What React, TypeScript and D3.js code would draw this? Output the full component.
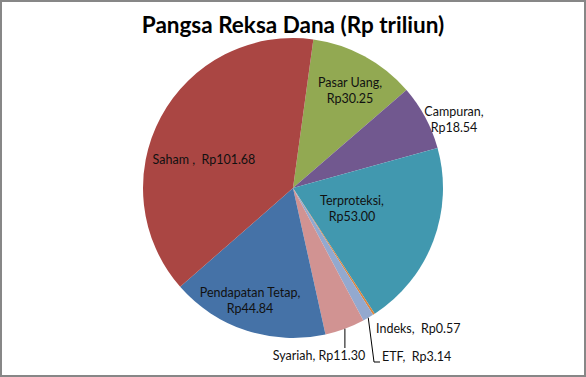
import React from "react";
import * as d3 from "d3";

const categories = ["Pasar Uang", "Campuran", "Terproteksi", "Indeks", "ETF", "Syariah", "Pendapatan Tetap", "Saham"];
const values = [30.25, 18.54, 53.0, 0.57, 3.14, 11.3, 44.84, 101.68];
const valueLabels = ["Rp30.25", "Rp18.54", "Rp53.00", "Rp0.57", "Rp3.14", "Rp11.30", "Rp44.84", "Rp101.68"];
const title = "Pangsa Reksa Dana (Rp triliun)";

const colors: Record<string, string> = {
  "Pasar Uang": "#92A952",
  Campuran: "#71588F",
  Terproteksi: "#4198AF",
  Indeks: "#DB843D",
  ETF: "#93A9CF",
  Syariah: "#D19392",
  "Pendapatan Tetap": "#4572A7",
  Saham: "#AA4643",
};

// label layout: offsets from pie center, line split, anchor
type Lay = { dx: number; dy: number; split: boolean; sep: string; anchor: string };
const layout: Record<string, Lay> = {
  "Pasar Uang": { dx: 57, dy: -96, split: true, sep: ",", anchor: "middle" },
  Campuran: { dx: 161, dy: -67, split: true, sep: ",", anchor: "middle" },
  Terproteksi: { dx: 59, dy: 22, split: true, sep: ",", anchor: "middle" },
  Indeks: { dx: 83, dy: 142, split: false, sep: ",  ", anchor: "start" },
  ETF: { dx: 89, dy: 170, split: false, sep: ",  ", anchor: "start" },
  Syariah: { dx: 26, dy: 169, split: false, sep: ", ", anchor: "middle" },
  "Pendapatan Tetap": { dx: -43, dy: 114, split: true, sep: ",", anchor: "middle" },
  Saham: { dx: -89, dy: -27, split: false, sep: " ,  ", anchor: "middle" },
};

const W = 586;
const H = 377;
const cx = 293;
const cy = 188;
const R = 150;
const startDeg = 7.8;

export default function App() {
  const data = categories.map((c, i) => ({ c, v: values[i], lab: valueLabels[i] }));
  const pie = d3
    .pie<any>()
    .sort(null)
    .value((d) => d.v)
    .startAngle((startDeg * Math.PI) / 180)
    .endAngle((startDeg * Math.PI) / 180 + 2 * Math.PI);
  const arcs = pie(data);
  const arc = d3.arc<any>().innerRadius(0).outerRadius(R);
  const edgePt = (a: any) => {
    const m = (a.startAngle + a.endAngle) / 2;
    return [cx + R * Math.sin(m), cy - R * Math.cos(m)];
  };
  const syr = arcs.find((a) => a.data.c === "Syariah")!;
  const etf = arcs.find((a) => a.data.c === "ETF")!;
  const sp = edgePt(syr);
  const ep = edgePt(etf);
  const lblFont = "Lato, 'Open Sans', sans-serif";

  return (
    <svg width={W} height={H} style={{ position: "absolute", left: 0, top: 0 }}>
      <rect x={1} y={1} width={W - 2} height={H - 2} fill="#fff" stroke="#878787" strokeWidth={2} />
      <text x={cx} y={33} textAnchor="middle" fontFamily={lblFont} fontWeight="bold" fontSize={22.5} fill="#000">
        {title}
      </text>
      <g transform={`translate(${cx},${cy})`}>
        {arcs.map((a) => (
          <path key={a.data.c} d={arc(a) || ""} fill={colors[a.data.c]} />
        ))}
      </g>
      <polyline points={`${sp[0]},${sp[1]} ${sp[0]},${cy + 160}`} fill="none" stroke="#000" strokeWidth={1} />
      <polyline
        points={`${ep[0]},${ep[1]} ${cx + 81},${cy + 174} ${cx + 87},${cy + 174}`}
        fill="none"
        stroke="#000"
        strokeWidth={1}
      />
      {data.map((d) => {
        const l = layout[d.c];
        const lines = l.split ? [d.c + l.sep, d.lab] : [d.c + l.sep + d.lab];
        const n = lines.length;
        return (
          <text
            key={d.c}
            x={cx + l.dx}
            y={cy + l.dy}
            textAnchor={l.anchor}
            fontFamily={lblFont}
            fontSize={12.5}
            fill="#111"
            dominantBaseline="middle"
            style={{ whiteSpace: "pre" }}
          >
            {lines.map((t, i) => (
              <tspan key={i} x={cx + l.dx} dy={i === 0 ? -(n - 1) * 8 : 16}>
                {t}
              </tspan>
            ))}
          </text>
        );
      })}
    </svg>
  );
}
